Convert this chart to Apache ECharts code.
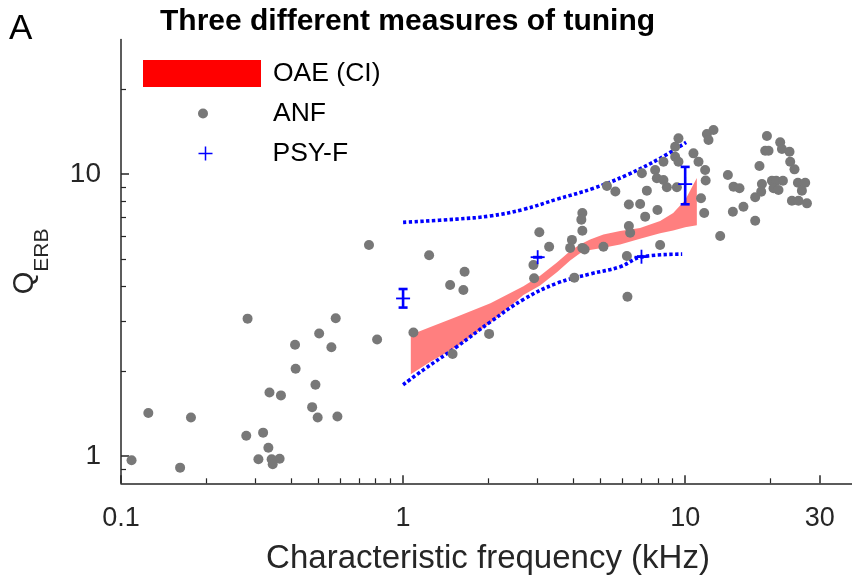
<!DOCTYPE html>
<html lang="en">
<head>
<meta charset="UTF-8">
<title>Three different measures of tuning</title>
<style>
  * { margin: 0; padding: 0; }
  body { background: #fff; }
  #chart { width: 852px; height: 583px; }
</style>
</head>
<body>
<div id="chart"></div>
<script src="https://cdn.jsdelivr.net/npm/echarts@6/dist/echarts.min.js"></script>
<script>
  // ANF: single fibres, characteristic frequency (kHz) and Q_ERB
  const anfFreq = [
    0.757, 0.281, 0.577, 0.504, 0.414, 0.557, 0.809, 0.416, 0.489, 0.336, 0.369, 0.125, 0.177,
    0.476, 0.498, 0.585, 0.278, 0.319, 0.333, 0.109, 0.162, 0.307, 0.342, 0.365, 0.345,
    1.237, 1.652, 1.468, 1.636, 1.088, 2.018, 1.498, 3.041, 3.294, 2.898, 2.914, 3.968, 3.910,
    4.320, 4.285, 4.320, 4.320, 4.401, 5.132, 4.047, 5.281, 5.656, 6.243, 6.213, 6.315, 6.315,
    6.925, 6.383,
    9.467, 9.215, 11.94, 12.10, 12.60, 10.70, 9.215, 9.467, 11.15, 8.375, 7.827, 7.023, 11.77,
    7.936, 8.375, 11.82, 8.611, 9.346, 7.315, 11.38, 7.976, 7.215, 11.68, 8.150,
    19.49, 21.72, 19.22, 19.75, 22.03, 23.44, 23.57, 18.34, 24.41, 14.17, 14.84, 15.58, 18.71,
    20.30, 21.03, 22.21, 20.57, 21.42, 18.60, 17.71, 25.10, 26.64, 25.93, 23.90, 25.22, 27.02,
    14.76, 16.09, 17.71, 13.31
  ];
  const anfQ = [
    5.60, 3.07, 3.08, 2.72, 2.48, 2.43, 2.59, 2.04, 1.79, 1.68, 1.64, 1.42, 1.37,
    1.49, 1.37, 1.38, 1.18, 1.21, 1.07, 0.966, 0.909, 0.973, 0.973, 0.977, 0.935,
    5.15, 4.50, 4.04, 3.88, 2.74, 2.71, 2.30, 6.22, 5.52, 4.76, 4.27, 5.84, 5.47,
    7.27, 6.89, 6.29, 5.47, 5.40, 5.52, 4.29, 9.07, 8.67, 3.67, 5.12, 6.54, 7.80,
    7.83, 6.19,
    13.38, 12.50, 13.86, 13.20, 14.32, 11.84, 11.52, 11.06, 11.06, 11.06, 10.33, 10.06, 10.33,
    9.66, 9.52, 9.48, 8.97, 8.97, 8.73, 8.20, 7.45, 7.06, 7.27, 5.60,
    13.64, 12.95, 12.09, 12.09, 12.27, 12.00, 11.06, 10.68, 10.39, 9.92, 9.02, 8.90, 9.22,
    9.47, 9.47, 9.47, 8.90, 8.78, 8.66, 8.27, 9.31, 9.31, 8.73, 8.04, 8.04, 7.87,
    7.35, 7.66, 6.83, 6.03
  ];

  // OAE confidence band
  const oaeFreq = [1.065, 1.25, 1.55, 2.04, 2.67, 3.06, 3.51, 3.91, 4.24, 4.6, 5.13, 5.88, 6.92, 8.15, 9.07, 10.0, 11.0];
  const oaeHi   = [2.69, 2.87, 3.12, 3.48, 4.00, 4.36, 4.86, 5.33, 5.62, 5.86, 6.10, 6.28, 6.44, 6.81, 7.27, 8.09, 9.68];
  const oaeLo   = [1.95, 2.16, 2.44, 2.97, 3.72, 4.02, 4.48, 4.94, 5.24, 5.38, 5.48, 5.62, 5.90, 6.16, 6.31, 6.47, 6.58];

  // PSY-F with error bars
  const psyFreq = [1, 3, 7, 10];
  const psyQ    = [3.62, 5.07, 5.09, 9.21];
  const psyLo   = [3.36, 5.07, 5.09, 7.81];
  const psyHi   = [3.91, 5.07, 5.09, 10.6];

  // dotted bounds
  const upperFreq = [1.0, 1.55, 2.035, 2.67, 3.51, 4.73, 6.21, 8.15, 10.08];
  const upperQ    = [6.74, 6.92, 7.10, 7.49, 8.14, 8.90, 9.92, 11.37, 12.95];
  const lowerFreq = [1.0, 1.18, 1.55, 2.04, 2.67, 3.51, 4.6, 5.88, 7.0, 9.76];
  const lowerQ    = [1.79, 2.02, 2.44, 2.99, 3.59, 4.10, 4.42, 4.69, 5.08, 5.20];

  // ticks
  const xMajor = [0.1, 1, 10, 30];
  const xMinor = [0.2, 0.3, 0.4, 0.5, 0.6, 0.7, 0.8, 0.9, 2, 3, 4, 5, 6, 7, 8, 9, 20];
  const yMajor = [1, 10];
  const yMinor = [0.9, 2, 3, 4, 5, 6, 7, 8, 9, 20];

  const axisColor = '#262626';
  const font = 'Liberation Sans, Arial, sans-serif';
  const zip = (a, b) => a.map((v, i) => [v, b[i]]);

  const chart = echarts.init(document.getElementById('chart'));

  const baseX = { type: 'log', logBase: 10, min: 0.1, max: 40, gridIndex: 0, position: 'bottom', splitLine: { show: false } };
  const baseY = { type: 'log', logBase: 10, min: 0.8, max: 30, gridIndex: 0, position: 'left', splitLine: { show: false } };

  chart.setOption({
    animation: false,
    textStyle: { fontFamily: font },
    title: [
      { text: 'A', left: 9, top: 12, padding: 0, textStyle: { fontSize: 35, fontWeight: 'normal', color: '#000', fontFamily: font } },
      { text: 'Three different measures of tuning', left: 160, top: 7, padding: 0,
        textStyle: { fontSize: 30, fontWeight: 'bold', color: '#000', fontFamily: font } }
    ],
    legend: [
      { data: [{ name: 'OAE (CI)', icon: 'rect', itemStyle: { color: '#ff0000', opacity: 1 } }],
        left: 143, top: 60, padding: 0, itemWidth: 118, itemHeight: 27, selectedMode: false,
        textStyle: { fontSize: 26.5, color: '#000', padding: [0, 0, 0, 7] } },
      { data: [{ name: 'ANF', icon: 'circle' }],
        left: 198, top: 100, padding: 0, itemWidth: 10, itemHeight: 10, selectedMode: false,
        textStyle: { fontSize: 26.5, color: '#000', padding: [0, 0, 0, 60] } },
      { data: [{ name: 'PSY-F', icon: 'path://M0,7L14,7M7,0L7,14' }],
        left: 196, top: 140, padding: 0, itemWidth: 14, itemHeight: 14, selectedMode: false,
        itemStyle: { color: 'none', borderColor: '#0000ff', borderWidth: 1.5 },
        textStyle: { fontSize: 26.5, color: '#000', padding: [0, 0, 0, 55] } }
    ],
    grid: { left: 121, right: -3, top: 39.5, bottom: 99.7, outerBoundsMode: 'none', containLabel: false },
    xAxis: [
      Object.assign({}, baseX, {
        name: 'Characteristic frequency (kHz)', nameLocation: 'middle', nameGap: 59,
        nameTextStyle: { fontSize: 33, color: axisColor },
        axisLine: { show: true, onZero: false, lineStyle: { color: axisColor, width: 1.5 } },
        axisTick: { show: true, inside: true, length: 8, customValues: xMajor, lineStyle: { color: axisColor, width: 1.5 } },
        axisLabel: { show: true, customValues: xMajor, margin: 22, fontSize: 27, color: axisColor,
          formatter: v => String(+(+v).toPrecision(3)) }
      }),
      Object.assign({}, baseX, {
        axisLine: { show: false }, axisLabel: { show: false },
        axisTick: { show: true, inside: true, length: 5, customValues: xMinor, lineStyle: { color: axisColor, width: 1.2 } }
      })
    ],
    yAxis: [
      Object.assign({}, baseY, {
        name: '{q|Q}{s|ERB}', nameLocation: 'middle', nameRotate: 90, nameGap: 68,
        nameTextStyle: { color: axisColor, rich: {
          q: { fontSize: 29, lineHeight: 56, color: axisColor },
          s: { fontSize: 21, lineHeight: 21, verticalAlign: 'bottom', color: axisColor }
        } },
        axisLine: { show: true, onZero: false, lineStyle: { color: axisColor, width: 1.5 } },
        axisTick: { show: true, inside: true, length: 8, customValues: yMajor, lineStyle: { color: axisColor, width: 1.5 } },
        axisLabel: { show: true, customValues: yMajor, margin: 20, fontSize: 28, color: axisColor,
          formatter: v => String(+(+v).toPrecision(3)) }
      }),
      Object.assign({}, baseY, {
        axisLine: { show: false }, axisLabel: { show: false },
        axisTick: { show: true, inside: true, length: 5, customValues: yMinor, lineStyle: { color: axisColor, width: 1.2 } }
      })
    ],
    series: [
      {
        name: 'OAE (CI)',
        type: 'custom',
        xAxisIndex: 0, yAxisIndex: 0,
        itemStyle: { color: 'rgba(255,0,0,0.5)' },
        data: oaeFreq.map((f, i) => [f, oaeLo[i], oaeHi[i]]),
        renderItem: (params, api) => {
          if (params.dataIndex !== 0) return null;
          const top = oaeFreq.map((f, i) => api.coord([f, oaeHi[i]]));
          const bot = oaeFreq.map((f, i) => api.coord([f, oaeLo[i]])).reverse();
          return {
            type: 'polygon',
            shape: { points: top.concat(bot) },
            style: { fill: 'rgba(255,0,0,0.5)' }
          };
        },
        z: 1
      },
      {
        name: 'upper', type: 'line', xAxisIndex: 0, yAxisIndex: 0,
        data: zip(upperFreq, upperQ), showSymbol: false, smooth: 0.4, z: 2,
        lineStyle: { color: '#0000ff', width: 3.6, type: [3.4, 2.4] }
      },
      {
        name: 'lower', type: 'line', xAxisIndex: 0, yAxisIndex: 0,
        data: zip(lowerFreq, lowerQ), showSymbol: false, smooth: 0.4, z: 2,
        lineStyle: { color: '#0000ff', width: 3.6, type: [3.4, 2.4] }
      },
      {
        name: 'ANF', type: 'scatter', xAxisIndex: 0, yAxisIndex: 0,
        data: zip(anfFreq, anfQ), symbol: 'circle', symbolSize: 10, z: 3,
        itemStyle: { color: '#787878', opacity: 1 }
      },
      {
        name: 'PSY-F',
        type: 'custom',
        xAxisIndex: 0, yAxisIndex: 0,
        itemStyle: { color: '#0000ff' },
        data: psyFreq.map((f, i) => [f, psyQ[i], psyLo[i], psyHi[i]]),
        renderItem: (params, api) => {
          const c = api.coord([api.value(0), api.value(1)]);
          const lo = api.coord([api.value(0), api.value(2)]);
          const hi = api.coord([api.value(0), api.value(3)]);
          const bar = { stroke: '#0000ff', lineWidth: 2.6 };
          const mk = { stroke: '#0000ff', lineWidth: 1.8 };
          return {
            type: 'group',
            children: [
              { type: 'line', shape: { x1: c[0], y1: hi[1], x2: c[0], y2: lo[1] }, style: bar },
              { type: 'line', shape: { x1: c[0] - 4.5, y1: hi[1], x2: c[0] + 4.5, y2: hi[1] }, style: bar },
              { type: 'line', shape: { x1: c[0] - 4.5, y1: lo[1], x2: c[0] + 4.5, y2: lo[1] }, style: bar },
              { type: 'line', shape: { x1: c[0] - 7, y1: c[1], x2: c[0] + 7, y2: c[1] }, style: mk },
              { type: 'line', shape: { x1: c[0], y1: c[1] - 7, x2: c[0], y2: c[1] + 7 }, style: mk }
            ]
          };
        },
        z: 4
      }
    ]
  });

  window.addEventListener('resize', () => chart.resize());
</script>
</body>
</html>
